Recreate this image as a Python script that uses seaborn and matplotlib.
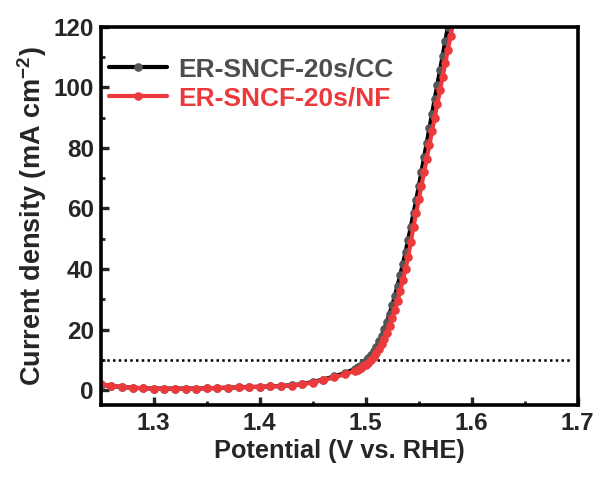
import numpy as np
import pandas as pd
import matplotlib
matplotlib.use("Agg")
import matplotlib.pyplot as plt
import seaborn as sns
from matplotlib.ticker import MultipleLocator

# ---- data ----
v_low = [1.25, 1.26, 1.27, 1.28, 1.29, 1.30, 1.31, 1.32, 1.33, 1.34, 1.35, 1.36, 1.37,
         1.38, 1.39, 1.40, 1.41, 1.42, 1.43, 1.44, 1.45, 1.46, 1.47, 1.48, 1.49,
         1.4925, 1.495, 1.4975]
v_high = [1.50, 1.5025, 1.505, 1.5075, 1.51, 1.5125, 1.515, 1.5175, 1.52, 1.5225, 1.525,
          1.5275, 1.53, 1.5325, 1.535, 1.5375, 1.54, 1.5425, 1.545, 1.5475, 1.55, 1.5525,
          1.555, 1.5575, 1.56, 1.5625, 1.565, 1.5675, 1.57, 1.5725, 1.575, 1.5775, 1.58,
          1.5825]
potential = v_low + v_high

j_nf = [1.9, 1.5, 1.1, 0.8, 0.6, 0.5, 0.5, 0.5, 0.5, 0.5, 0.6, 0.7, 0.8,
        0.9, 1.0, 1.1, 1.2, 1.3, 1.5, 1.9, 2.5, 3.3, 4.2, 5.2, 6.4,
        6.8, 7.3, 7.8,
        8.4, 9.1, 9.9, 10.9, 12.1, 13.5, 15.1, 16.9, 18.9, 21.2, 23.7,
        26.5, 29.5, 32.8, 36.3, 40.0, 44.0, 49.0, 54.0, 58.5, 63.0, 67.5,
        72.0, 76.5, 81.0, 85.5, 90.0, 94.5, 99.0, 103.5, 108.0, 112.5, 117.0,
        121.5]
j_cc = [1.7, 1.4, 1.0, 0.8, 0.6, 0.5, 0.5, 0.5, 0.5, 0.5, 0.6, 0.7, 0.8,
        0.9, 1.0, 1.1, 1.2, 1.4, 1.6, 2.0, 2.7, 3.5, 4.5, 5.6, 7.0,
        7.5, 8.1, 8.8,
        9.6, 10.5, 11.6, 12.9, 14.4, 16.1, 18.0, 20.2, 22.6, 25.2, 28.1,
        31.2, 34.5, 38.0, 41.7, 45.6, 49.7, 54.0, 58.4, 62.8, 67.3, 72.1,
        76.9, 81.7, 86.5, 91.3, 96.1, 100.9, 105.7, 110.5, 115.3, 120.1, 124.9,
        129.7]
labels = ["ER-SNCF-20s/CC", "ER-SNCF-20s/NF"]
ref_current = 10

df = pd.DataFrame({
    "Potential": potential * 2,
    "Current": j_cc + j_nf,
    "Sample": [labels[0]] * len(potential) + [labels[1]] * len(potential),
})

sns.set_theme(style="white")
plt.rcParams["font.family"] = ["Liberation Sans", "DejaVu Sans"]
plt.rcParams["font.weight"] = "bold"
plt.rcParams["mathtext.fontset"] = "custom"
plt.rcParams["mathtext.rm"] = "Liberation Sans:bold"
plt.rcParams["mathtext.bf"] = "Liberation Sans:bold"
plt.rcParams["mathtext.it"] = "Liberation Sans:bold"

fig = plt.figure(figsize=(6.0, 4.79), dpi=100)
ax = fig.add_axes([0.168, 0.154, 0.795, 0.79])

line_colors = {labels[0]: "#000000", labels[1]: "#ec3a3c"}
marker_colors = {labels[0]: "#555555", labels[1]: "#ec3a3c"}

for lab in labels:
    sub = df[df["Sample"] == lab]
    sns.lineplot(data=sub, x="Potential", y="Current", ax=ax, color=line_colors[lab],
                 linewidth=3.0, marker="o", markersize=6.2,
                 markerfacecolor=marker_colors[lab], markeredgecolor=marker_colors[lab],
                 markeredgewidth=0, label=lab, sort=False)

ax.axhline(ref_current, xmin=0, xmax=0.985, color="black", linestyle=(0, (1.0, 1.3)),
           linewidth=1.8, zorder=1)

ax.set_xlim(1.25, 1.7)
ax.set_ylim(-5, 120)
ax.xaxis.set_minor_locator(MultipleLocator(0.05))
ax.yaxis.set_major_locator(MultipleLocator(20))
ax.yaxis.set_minor_locator(MultipleLocator(10))
ax.set_xticks([1.3, 1.4, 1.5, 1.6, 1.7])
ax.set_xticklabels(["1.3", "1.4", "1.5", "1.6", "1.7"])

ax.tick_params(axis="both", which="major", direction="in", length=6, width=2.4,
               labelsize=17.5, pad=5, bottom=True, left=True)
ax.tick_params(axis="both", which="minor", direction="in", length=3, width=2.0,
               bottom=True, left=True)
for lbl in ax.get_xticklabels() + ax.get_yticklabels():
    lbl.set_fontweight("bold")

for s in ax.spines.values():
    s.set_linewidth(2.6)
    s.set_color("black")

ax.set_xlabel("Potential (V vs. RHE)", fontsize=18.3, fontweight="bold", labelpad=3)
ax.set_ylabel("Current density (mA cm$^{\\mathbf{-2}}$)", fontsize=19.5, fontweight="bold",
              labelpad=3)

leg = ax.legend(loc="upper left", frameon=False, fontsize=19, handlelength=2.2,
                handletextpad=0.45, borderaxespad=0.0, labelspacing=0.2,
                bbox_to_anchor=(0.0, 0.94), borderpad=0.3)
leg.get_texts()[0].set_color("#4d4d4d")
leg.get_texts()[1].set_color("#ec3a3c")
for t in leg.get_texts():
    t.set_fontweight("bold")

fig.savefig("out.png", dpi=100)
